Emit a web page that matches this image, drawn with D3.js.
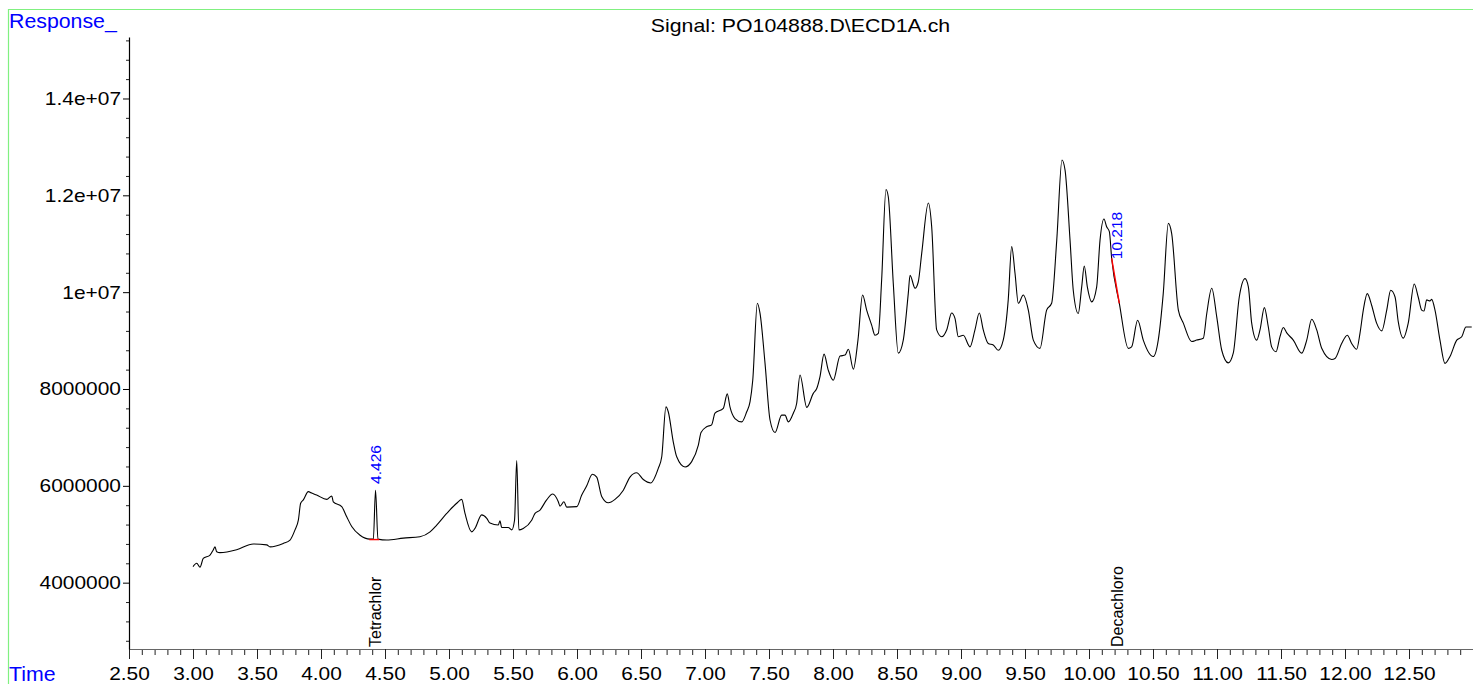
<!DOCTYPE html>
<html>
<head>
<meta charset="utf-8">
<script src="https://cdn.jsdelivr.net/npm/d3@7"></script>
<style>
body { margin: 0; background: #fff; }
svg { display: block; font-family: "Liberation Sans", Arial, sans-serif; }
</style>
</head>
<body>
<script>
// retention time (min) and detector response
const rt = [3.000, 3.029, 3.055, 3.080, 3.133, 3.159, 3.172, 3.185, 3.211, 3.341, 3.471, 3.576, 3.602, 3.705, 3.758,
    3.797, 3.823, 3.841, 3.862, 3.901, 3.927, 3.966, 4.045, 4.084, 4.096, 4.162, 4.201, 4.240, 4.305, 4.383,
    4.409, 4.426, 4.445, 4.513, 4.643, 4.773, 4.852, 4.904, 4.982, 5.060, 5.099, 5.125, 5.177, 5.203, 5.255,
    5.295, 5.320, 5.385, 5.398, 5.412, 5.463, 5.490, 5.512, 5.529, 5.546, 5.580, 5.646, 5.672, 5.711, 5.763,
    5.810, 5.854, 5.867, 5.898, 5.920, 5.998, 6.037, 6.076, 6.120, 6.154, 6.193, 6.245, 6.297, 6.362, 6.414,
    6.466, 6.518, 6.576, 6.635, 6.662, 6.695, 6.713, 6.752, 6.779, 6.844, 6.896, 6.948, 6.969, 7.013, 7.052,
    7.078, 7.143, 7.174, 7.195, 7.234, 7.287, 7.326, 7.352, 7.373, 7.409, 7.430, 7.469, 7.508, 7.547, 7.599,
    7.625, 7.651, 7.690, 7.716, 7.742, 7.795, 7.846, 7.873, 7.898, 7.930, 7.963, 8.002, 8.055, 8.094, 8.120,
    8.159, 8.195, 8.231, 8.263, 8.302, 8.328, 8.354, 8.380, 8.414, 8.432, 8.471, 8.510, 8.549, 8.588, 8.602,
    8.641, 8.666, 8.693, 8.745, 8.771, 8.810, 8.849, 8.888, 8.927, 8.953, 8.979, 9.018, 9.070, 9.109, 9.143,
    9.174, 9.213, 9.252, 9.291, 9.330, 9.369, 9.396, 9.422, 9.448, 9.487, 9.526, 9.565, 9.617, 9.669, 9.708,
    9.748, 9.789, 9.813, 9.852, 9.877, 9.916, 9.943, 9.963, 9.987, 10.021, 10.060, 10.086, 10.117, 10.138, 10.159,
    10.177, 10.237, 10.307, 10.333, 10.380, 10.424, 10.502, 10.541, 10.580, 10.620, 10.646, 10.698, 10.737, 10.802, 10.841,
    10.893, 10.920, 10.959, 10.998, 11.037, 11.088, 11.127, 11.174, 11.219, 11.245, 11.271, 11.310, 11.336, 11.370, 11.401,
    11.427, 11.461, 11.492, 11.518, 11.545, 11.596, 11.662, 11.701, 11.740, 11.779, 11.818, 11.896, 11.922, 11.974, 12.018,
    12.052, 12.091, 12.117, 12.143, 12.174, 12.208, 12.247, 12.287, 12.326, 12.357, 12.391, 12.416, 12.455, 12.494, 12.541,
    12.572, 12.599, 12.617, 12.638, 12.664, 12.677, 12.703, 12.742, 12.781, 12.820, 12.873, 12.912, 12.945, 12.990];

const resp = [4.33e6, 4.40e6, 4.32e6, 4.50e6, 4.57e6, 4.68e6, 4.74e6, 4.64e6, 4.62e6, 4.68e6, 4.80e6, 4.78e6, 4.74e6, 4.81e6, 4.88e6,
    5.09e6, 5.29e6, 5.64e6, 5.71e6, 5.88e6, 5.85e6, 5.81e6, 5.72e6, 5.79e6, 5.67e6, 5.57e6, 5.36e6, 5.16e6, 4.98e6, 4.90e6,
    4.90e6, 5.91e6, 4.90e6, 4.88e6, 4.92e6, 4.95e6, 5.05e6, 5.19e6, 5.43e6, 5.64e6, 5.72e6, 5.43e6, 5.05e6, 5.12e6, 5.40e6,
    5.33e6, 5.23e6, 5.19e6, 5.28e6, 5.14e6, 5.14e6, 5.09e6, 5.29e6, 6.52e6, 5.09e6, 5.12e6, 5.29e6, 5.43e6, 5.50e6, 5.71e6,
    5.83e6, 5.67e6, 5.58e6, 5.67e6, 5.56e6, 5.57e6, 5.81e6, 6.00e6, 6.24e6, 6.18e6, 5.78e6, 5.65e6, 5.72e6, 5.91e6, 6.18e6,
    6.27e6, 6.13e6, 6.06e6, 6.36e6, 6.60e6, 7.63e6, 7.53e6, 6.91e6, 6.60e6, 6.39e6, 6.50e6, 6.84e6, 7.10e6, 7.22e6, 7.26e6,
    7.50e6, 7.60e6, 7.90e6, 7.63e6, 7.39e6, 7.32e6, 7.53e6, 7.74e6, 8.18e6, 9.77e6, 9.56e6, 8.53e6, 7.36e6, 7.10e6, 7.46e6,
    7.46e6, 7.32e6, 7.50e6, 7.70e6, 8.29e6, 7.62e6, 7.91e6, 8.01e6, 8.25e6, 8.72e6, 8.39e6, 8.18e6, 8.68e6, 8.70e6, 8.82e6,
    8.41e6, 9.01e6, 9.94e6, 9.63e6, 9.32e6, 9.11e6, 9.15e6, 10.25e6, 12.12e6, 11.97e6, 10.18e6, 8.74e6, 9.01e6, 9.97e6, 10.35e6,
    10.08e6, 10.21e6, 10.80e6, 11.84e6, 11.35e6, 9.22e6, 9.08e6, 9.22e6, 9.57e6, 9.46e6, 9.08e6, 9.11e6, 8.87e6, 9.22e6, 9.57e6,
    9.22e6, 8.94e6, 8.91e6, 8.80e6, 9.01e6, 9.84e6, 10.94e6, 10.39e6, 9.77e6, 9.94e6, 9.63e6, 9.01e6, 8.84e6, 9.63e6, 9.77e6,
    11.07e6, 12.73e6, 12.52e6, 11.07e6, 10.04e6, 9.56e6, 10.11e6, 10.54e6, 10.11e6, 9.80e6, 10.11e6, 11.07e6, 11.51e6, 11.35e6, 11.25e6,
    10.70e6, 9.77e6, 8.84e6, 8.87e6, 9.42e6, 9.01e6, 8.67e6, 9.01e6, 9.97e6, 11.42e6, 11.21e6, 9.63e6, 9.36e6, 8.98e6, 9.01e6,
    9.05e6, 9.56e6, 10.08e6, 9.49e6, 8.80e6, 8.54e6, 8.74e6, 9.90e6, 10.28e6, 10.11e6, 9.36e6, 9.01e6, 9.22e6, 9.68e6, 9.28e6,
    8.87e6, 8.77e6, 9.08e6, 9.27e6, 9.16e6, 9.01e6, 8.74e6, 9.01e6, 9.44e6, 9.22e6, 8.84e6, 8.61e6, 8.63e6, 8.94e6, 9.11e6,
    8.94e6, 8.82e6, 9.15e6, 9.63e6, 9.97e6, 9.73e6, 9.36e6, 9.20e6, 9.63e6, 10.04e6, 9.90e6, 9.39e6, 9.05e6, 9.36e6, 10.17e6,
    9.90e6, 9.63e6, 9.61e6, 9.84e6, 9.82e6, 9.85e6, 9.63e6, 9.01e6, 8.53e6, 8.67e6, 9.01e6, 9.08e6, 9.28e6, 9.28e6];

const yTicks = [4e6, 6e6, 8e6, 1e7, 1.2e7, 1.4e7];
const yTickLabels = ["4000000", "6000000", "8000000", "1e+07", "1.2e+07", "1.4e+07"];

// integrated peaks
const peakRT = [4.426, 10.218];
const peakLabelResp = [6.04e6, 10.68e6];
const peakNames = ["Tetrachlor", "Decachloro"];
const baseStartRT = [4.377, 10.177];
const baseEndRT = [4.455, 10.237];
const baseStartResp = [4.89e6, 10.70e6];
const baseEndResp = [4.89e6, 9.77e6];

const signalName = "Signal: PO104888.D\\ECD1A.ch";

const W = 1473, H = 684;
const blue = "#0000ff";

const svg = d3.select("body").append("svg")
    .attr("width", W)
    .attr("height", H);

const x = d3.scaleLinear().domain([2.5, 13.0]).range([129, 1473]);
const y = d3.scaleLinear().domain([2.63e6, 15.27e6]).range([649, 37]);

// the ChemStation fonts look a bit wider than Arial
function stretch(sel, k) {
    sel.each(function () {
        const w = this.getComputedTextLength();
        this.setAttribute("textLength", w * k);
        this.setAttribute("lengthAdjust", "spacingAndGlyphs");
    });
}

// frame
svg.append("path")
    .attr("d", `M8.5,${H} V9.5 H${W}`)
    .attr("fill", "none")
    .attr("stroke", "#80f080")
    .attr("stroke-width", 1.2);

// minor ticks
const xMinor = d3.range(26, 131).filter(d => d % 5 !== 0).map(d => d / 10);
svg.append("g")
    .attr("transform", "translate(0,649)")
    .call(d3.axisBottom(x).tickValues(xMinor).tickSize(6).tickFormat(""))
    .call(g => g.select(".domain").remove())
    .selectAll("line").attr("stroke", "#222");

const yMinor = d3.range(28, 153, 4).filter(d => d % 20 !== 0).map(d => d * 1e5);
svg.append("g")
    .attr("transform", "translate(129,0)")
    .call(d3.axisLeft(y).tickValues(yMinor).tickSize(3).tickFormat(""))
    .call(g => g.select(".domain").remove())
    .selectAll("line").attr("stroke", "#222");

// x axis
const xAxis = svg.append("g")
    .attr("transform", "translate(0,649)")
    .call(d3.axisBottom(x)
        .tickValues(d3.range(5, 26).map(d => d / 2))
        .tickFormat(d3.format(".2f"))
        .tickSize(10)
        .tickSizeOuter(0)
        .tickPadding(8));
xAxis.select(".domain").attr("stroke", "#666").attr("stroke-width", 1.2);
xAxis.selectAll("line").attr("stroke", "#222");
xAxis.selectAll("text")
    .attr("font-family", "Liberation Sans, Arial, sans-serif")
    .attr("font-size", 18.5)
    .attr("fill", "#000")
    .call(stretch, 1.13);

// y axis
const yAxis = svg.append("g")
    .attr("transform", "translate(129,0)")
    .call(d3.axisLeft(y)
        .tickValues(yTicks)
        .tickFormat((d, i) => yTickLabels[i])
        .tickSize(6)
        .tickSizeOuter(0)
        .tickPadding(2));
yAxis.select(".domain").attr("stroke", "#000").attr("stroke-width", 1.2);
yAxis.selectAll("line").attr("stroke", "#000");
yAxis.selectAll("text")
    .attr("font-family", "Liberation Sans, Arial, sans-serif")
    .attr("font-size", 18.5)
    .attr("fill", "#000")
    .call(stretch, 1.13);

// trace
const pts = rt.map((t, i) => [t, resp[i]]);
const line = d3.line()
    .x(d => x(d[0]))
    .y(d => y(d[1]))
    .curve(d3.curveMonotoneX);

svg.append("path")
    .datum(pts)
    .attr("d", line)
    .attr("fill", "none")
    .attr("stroke", "#000")
    .attr("stroke-width", 1.1)
    .attr("stroke-linejoin", "round");

// integration baselines
svg.selectAll(".base")
    .data(peakRT)
    .enter()
    .append("line")
    .attr("class", "base")
    .attr("x1", (d, i) => x(baseStartRT[i]))
    .attr("y1", (d, i) => y(baseStartResp[i]))
    .attr("x2", (d, i) => x(baseEndRT[i]))
    .attr("y2", (d, i) => y(baseEndResp[i]))
    .attr("stroke", "#ff0000")
    .attr("stroke-width", 1.4);

// peak retention time labels
svg.selectAll(".rtlab")
    .data(peakRT)
    .enter()
    .append("text")
    .attr("class", "rtlab")
    .attr("transform", (d, i) => `translate(${x(d)},${y(peakLabelResp[i])}) rotate(-90)`)
    .attr("dy", "0.35em")
    .attr("font-size", 15.5)
    .attr("fill", blue)
    .text(d => d3.format(".3f")(d));

// compound names
svg.selectAll(".cmp")
    .data(peakRT)
    .enter()
    .append("text")
    .attr("class", "cmp")
    .attr("transform", d => `translate(${x(d)},647) rotate(-90)`)
    .attr("dy", "0.35em")
    .attr("font-size", 16)
    .attr("fill", "#000")
    .text((d, i) => peakNames[i]);

// titles
svg.append("text")
    .attr("x", 800.5)
    .attr("y", 32)
    .attr("text-anchor", "middle")
    .attr("font-size", 19)
    .attr("fill", "#000")
    .text(signalName)
    .call(stretch, 1.12);

svg.append("text")
    .attr("x", 9)
    .attr("y", 28)
    .attr("font-size", 20)
    .attr("fill", blue)
    .text("Response_")
    .call(stretch, 1.065);

svg.append("text")
    .attr("x", 9)
    .attr("y", 681)
    .attr("font-size", 20)
    .attr("fill", blue)
    .text("Time")
    .call(stretch, 1.065);
</script>
</body>
</html>
